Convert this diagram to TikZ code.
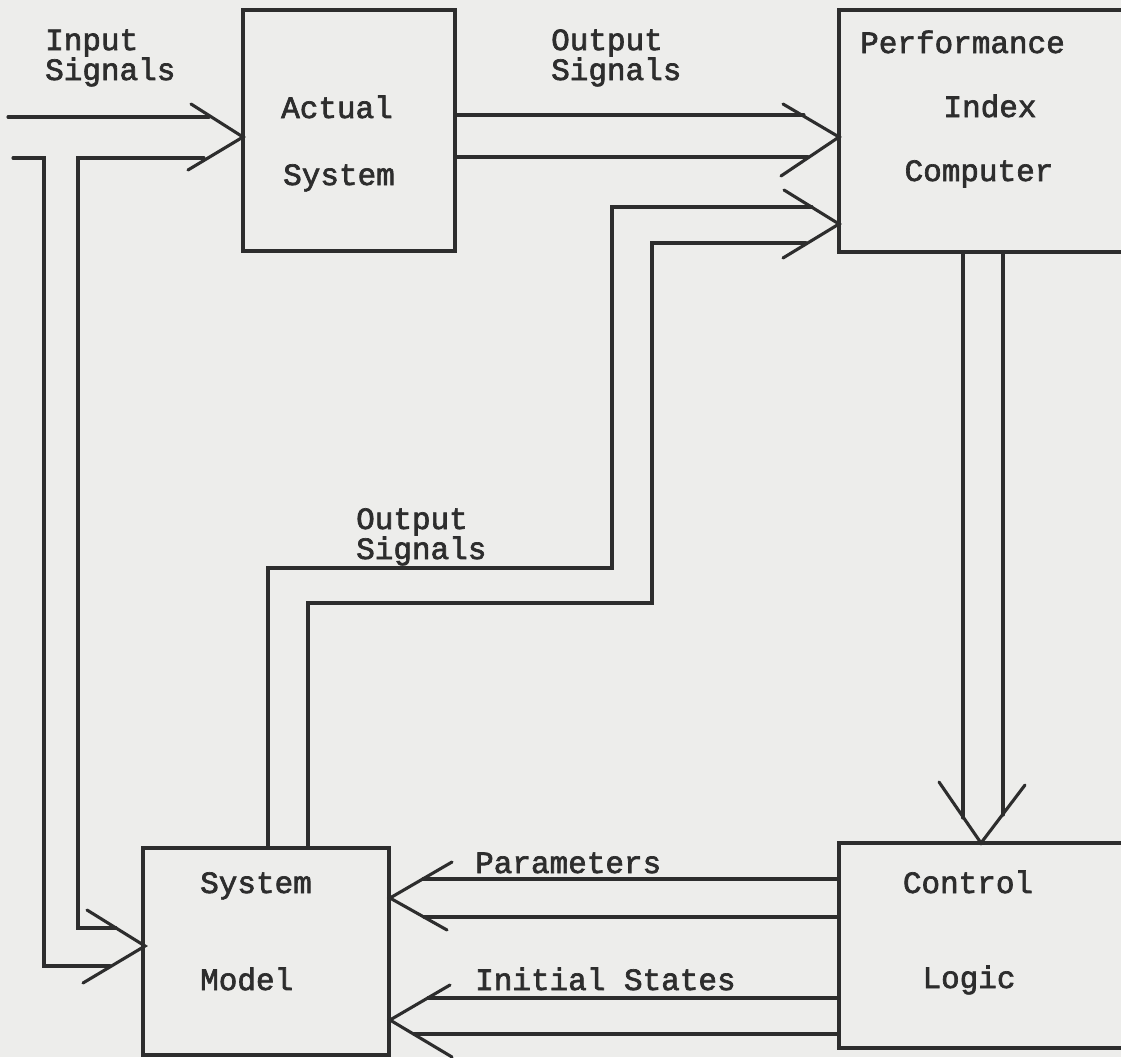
\documentclass[tikz,border=0pt]{standalone}
\usepackage{fontspec}
\newfontfamily\tw[FakeBold=2.2]{Liberation Mono}
\definecolor{paper}{RGB}{237,237,235}
\definecolor{ink}{RGB}{45,45,45}
\begin{document}
\begin{tikzpicture}[x=1pt,y=-1pt,
  wire/.style={draw=ink,line width=3.1pt,line cap=round,line join=miter},
  blk/.style={draw=ink,line width=3.2pt,inner sep=0pt,rectangle},
  lbl/.style={font=\tw\fontsize{31}{36}\selectfont,text=ink,inner sep=0pt,
    text height=19pt,text depth=4pt},
  lbltwo/.style={font=\tw\fontsize{31}{27}\selectfont,text=ink,inner sep=0pt,
    align=left}]
\useasboundingbox (0,0) rectangle (1121,1057);
\clip (0,0) rectangle (1121,1057);
\fill[paper] (0,0) rectangle (1121,1057);

% blocks
\node[blk,minimum width=212pt,minimum height=241pt] (as)  at (349,130.5) {};
\node[blk,minimum width=361pt,minimum height=242pt] (pic) at (1019.5,131) {};
\node[blk,minimum width=361pt,minimum height=205pt] (cl)  at (1019.5,945.5) {};
\node[blk,minimum width=246pt,minimum height=207pt] (sm)  at (266,951.5) {};

% block labels
\node[lbl,anchor=base] (asA) at (337,118) {Actual};
\node[lbl,anchor=base] (asB) at (339,185) {System};
\node[lbl,anchor=base west] (picA) at (860,53) {Performance};
\node[lbl,anchor=base] (picB) at (990,117) {Index};
\node[lbl,anchor=base] (picC) at (979,181) {Computer};
\node[lbl,anchor=base] (clA) at (968,893) {Control};
\node[lbl,anchor=base] (clB) at (969,988) {Logic};
\node[lbl,anchor=base west] (smA) at (200,893) {System};
\node[lbl,anchor=base west] (smB) at (200,990) {Model};

% signal labels
\node[lbltwo,anchor=base west] (inL) at (45,80) {Input\\Signals};
\node[lbltwo,anchor=base west] (outL) at (551,80) {Output\\Signals};
\node[lbl,anchor=base west] (moA) at (356,529) {Output};
\node[lbl,anchor=base west] (moB) at (356,559) {Signals};
\node[lbl,anchor=base west] (parL) at (475,873) {Parameters};
\node[lbl,anchor=base west] (insL) at (475,990) {Initial States};

% tips
\coordinate (tipAS) at (243,137);
\coordinate (tipSM) at (145,946);
\coordinate (tipPIC1) at (839,137);
\coordinate (tipPIC2) at (839,224);
\coordinate (tipCL) at (981,843);
\coordinate (tipP) at (390,898);
\coordinate (tipI) at (390,1020);
\coordinate (srcA) at (8,117);
\coordinate (srcB) at (13,158);

% input signals (to actual system and to system model)
\draw[wire] (srcA) -- (209,117);
\draw[wire] (srcB) -- (44,158) -- (44,966) -- (110,966);
\draw[wire] (204,158) -- (78,158) -- (78,928) -- (116,928);
\draw[wire] (191,104) -- (tipAS) -- (188,170);
\draw[wire] (87,910) -- (tipSM) -- (83,983);

% output signals of actual system
\draw[wire] (455,115) -- (804,115);
\draw[wire] (455,157) -- (808,157);
\draw[wire] (783,104) -- (tipPIC1) -- (781,176);

% output signals of system model
\draw[wire] (268,848) -- (268,568) -- (612,568) -- (612,207) -- (812,207);
\draw[wire] (308,848) -- (308,603) -- (652,603) -- (652,243) -- (806,243);
\draw[wire] (784,190) -- (tipPIC2) -- (783,258);

% performance index to control logic
\draw[wire] (963,252) -- (963,818);
\draw[wire] (1003,252) -- (1003,815);
\draw[wire] (939,782) -- (tipCL) -- (1025,785);

% parameters and initial states
\draw[wire] (838,879) -- (423,879);
\draw[wire] (838,917) -- (424,917);
\draw[wire] (452,862) -- (tipP) -- (447,930);
\draw[wire] (838,998) -- (428,998);
\draw[wire] (838,1034) -- (414,1034);
\draw[wire] (450,985) -- (tipI) -- (452,1057);
\end{tikzpicture}
\end{document}
